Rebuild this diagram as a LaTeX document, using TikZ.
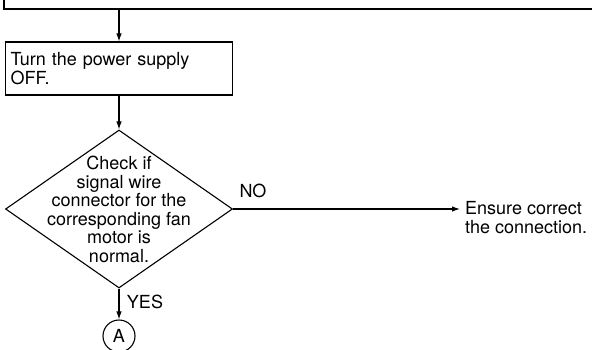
\documentclass[tikz,border=0pt]{standalone}
\usepackage{fontspec}
\setmainfont{TeX Gyre Heros}
\usepackage{tikz}
\usetikzlibrary{arrows.meta,positioning,calc,shapes.geometric}
\tikzset{
  block/.style={draw, line width=1.1pt, inner sep=5pt},
  stepbox/.style={block, rectangle, align=left, text width=217pt, minimum width=227pt, minimum height=53pt},
  decision/.style={block, diamond, inner sep=0pt, minimum width=227pt, minimum height=158pt},
  joint/.style={block, circle, inner sep=0pt, minimum size=32pt},
  note/.style={align=left, inner sep=0pt},
  arrow/.style={-{Latex[length=8pt,width=5.5pt]}, line width=1.1pt}
}
\begin{document}
\begin{tikzpicture}[x=1pt,y=-1pt,font=\fontsize{18}{18.6}\selectfont]
  \useasboundingbox (0,0) rectangle (592,349);

  \node[block, minimum width=636pt, minimum height=50pt] (prev) at (322,-16) {};
  \node[stepbox] (off) at (119,68.5) {Turn the power supply\\OFF.};
  \node[decision] (check) at (119,209) {};
  \node[align=center, inner sep=0pt] (checktxt) at (119,209.5) {Check if\\signal wire\\connector for the\\corresponding fan\\motor is\\normal.};
  \node[note] (no) at (253,191) {NO};
  \node[note, inner xsep=5pt, anchor=west] (fix) at (460,217.5) {Ensure correct\\the connection.};
  \node[note] (yes) at (145,302) {YES};
  \node[joint] (contA) at (119,336) {A};

  \draw[arrow] (prev.south -| off.north) -- (off.north);
  \draw[arrow] (off.south) -- (check.north);
  \draw[arrow] (check.east) -- (check.east -| fix.west);
  \draw[arrow] (check.south) -- (contA.north);
\end{tikzpicture}
\end{document}
